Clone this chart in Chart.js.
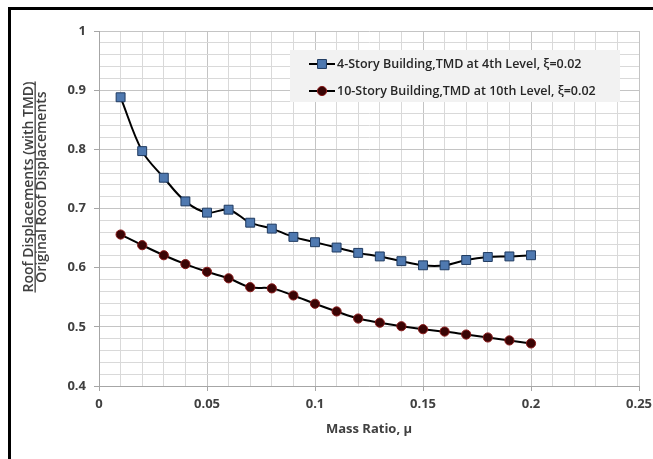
<!DOCTYPE html>
<html>
<head>
<meta charset="utf-8">
<script src="https://cdn.jsdelivr.net/npm/chart.js@4.4.1/dist/chart.umd.min.js"></script>
<style>
  html, body { margin: 0; padding: 0; background: #fff; }
  #wrap { position: relative; width: 653px; height: 459px; }
</style>
</head>
<body>
<div id="wrap"><canvas id="grafica" width="653" height="459"></canvas></div>
<script>
// datos
const massRatio = [0.01, 0.02, 0.03, 0.04, 0.05, 0.06, 0.07, 0.08, 0.09, 0.10,
                   0.11, 0.12, 0.13, 0.14, 0.15, 0.16, 0.17, 0.18, 0.19, 0.20];
const story4 = [0.888, 0.797, 0.752, 0.712, 0.693, 0.698, 0.676, 0.666, 0.652, 0.643,
                0.634, 0.625, 0.619, 0.611, 0.604, 0.604, 0.613, 0.618, 0.619, 0.621];
const story10 = [0.656, 0.638, 0.621, 0.606, 0.593, 0.582, 0.567, 0.565, 0.553, 0.539,
                 0.526, 0.514, 0.507, 0.501, 0.496, 0.492, 0.487, 0.482, 0.477, 0.472];
const serieNombres = ['4-Story Building,TMD at 4th Level, \u03BE=0.02',
                      '10-Story Building,TMD at 10th Level, \u03BE=0.02'];
const tituloY = ['Roof Displacements (with TMD)', 'Original Roof Displacements'];
const tituloX = 'Mass Ratio, \u03BC';

const fuente = '"Open Sans", "Noto Sans", sans-serif';
const gris = '#404040';

function puntos(ys) {
    return massRatio.map((x, i) => ({ x: x, y: ys[i] }));
}

// marco negro, titulo Y en forma de fraccion y leyenda dentro del area
const extras = {
    id: 'extras',
    afterDraw(chart) {
        const ctx = chart.ctx;
        ctx.save();
        ctx.fillStyle = '#000';
        ctx.fillRect(8, 7, 3, 452);
        ctx.fillRect(8, 7, 645, 3);

        // titulo eje Y
        ctx.translate(36, 187);
        ctx.rotate(-Math.PI / 2);
        ctx.font = '600 14px ' + fuente;
        ctx.fillStyle = gris;
        ctx.textAlign = 'center';
        ctx.textBaseline = 'alphabetic';
        ctx.fillText(tituloY[0], 0, -3);
        const w = ctx.measureText(tituloY[0]).width;
        ctx.fillRect(-w / 2, -1.5, w, 1.3);
        ctx.textBaseline = 'top';
        ctx.fillText(tituloY[1], 0, -1);
        ctx.setTransform(1, 0, 0, 1, 0, 0);

        // leyenda
        ctx.fillStyle = '#f2f2f2';
        ctx.fillRect(290, 50, 330, 52);
        const filas = [64, 91];
        chart.data.datasets.forEach((ds, i) => {
            const y = filas[i];
            ctx.strokeStyle = '#000';
            ctx.lineWidth = 2;
            ctx.beginPath();
            ctx.moveTo(309, y);
            ctx.lineTo(335, y);
            ctx.stroke();
            ctx.fillStyle = ds.pointBackgroundColor;
            ctx.strokeStyle = ds.pointBorderColor;
            ctx.lineWidth = ds.pointBorderWidth;
            ctx.beginPath();
            if (ds.pointStyle === 'rect') {
                const s = Math.SQRT1_2 * ds.pointRadius;
                ctx.rect(322 - s, y - s, 2 * s, 2 * s);
            } else {
                ctx.arc(322, y, ds.pointRadius, 0, Math.PI * 2);
            }
            ctx.fill();
            ctx.stroke();
            ctx.fillStyle = '#262626';
            ctx.font = '600 12.5px ' + fuente;
            ctx.textAlign = 'left';
            ctx.textBaseline = 'middle';
            ctx.fillText(ds.label, 337, y);
        });
        ctx.restore();
    }
};

const ctx = document.getElementById('grafica').getContext('2d');
const grafica = new Chart(ctx, {
    type: 'line',
    data: {
        datasets: [{
            label: serieNombres[0],
            data: puntos(story4),
            borderColor: '#000',
            borderWidth: 2,
            tension: 0.35,
            pointStyle: 'rect',
            pointRadius: 6.3,
            pointBackgroundColor: '#4f79b0',
            pointBorderColor: '#1f3a60',
            pointBorderWidth: 1
        }, {
            label: serieNombres[1],
            data: puntos(story10),
            borderColor: '#000',
            borderWidth: 2,
            tension: 0.35,
            pointStyle: 'circle',
            pointRadius: 4.6,
            pointBackgroundColor: '#3a0505',
            pointBorderColor: '#8a1a1a',
            pointBorderWidth: 1
        }]
    },
    options: {
        responsive: false,
        animation: false,
        layout: { padding: { top: 31, right: 14, left: 0, bottom: 0 } },
        plugins: {
            legend: { display: false },
            tooltip: { enabled: false }
        },
        scales: {
            x: {
                type: 'linear',
                min: 0, max: 0.25,
                afterFit: (s) => { s.height = 73; s.paddingLeft = 0; s.paddingRight = 0; },
                ticks: {
                    stepSize: 0.01,
                    autoSkip: false,
                    maxRotation: 0,
                    padding: 5,
                    color: gris,
                    font: { family: fuente, size: 13, weight: 'bold' },
                    callback: (v) => Math.round(v * 100) % 5 === 0 ? String(+v.toFixed(2)) : ''
                },
                grid: {
                    color: (c) => Math.round(c.tick.value * 100) % 5 === 0 ? '#c4c4c4' : '#d9d9d9',
                    tickColor: (c) => Math.round(c.tick.value * 100) % 5 === 0 ? '#a6a6a6' : 'rgba(0,0,0,0)',
                    tickLength: 5
                },
                border: { color: '#a6a6a6' },
                title: {
                    display: true,
                    text: tituloX,
                    color: gris,
                    font: { family: fuente, size: 13, weight: 'bold' },
                    padding: { top: 4, bottom: 22 }
                }
            },
            y: {
                min: 0.4, max: 1,
                afterFit: (s) => { s.width = 99; s.paddingTop = 0; s.paddingBottom = 0; },
                ticks: {
                    stepSize: 0.02,
                    autoSkip: false,
                    padding: 8,
                    color: gris,
                    font: { family: fuente, size: 13, weight: 'bold' },
                    callback: (v) => Math.round(v * 100) % 10 === 0 ? String(+v.toFixed(1)) : ''
                },
                grid: {
                    color: (c) => Math.round(c.tick.value * 100) % 10 === 0 ? '#c4c4c4' : '#d9d9d9',
                    tickColor: (c) => Math.round(c.tick.value * 100) % 10 === 0 ? '#a6a6a6' : 'rgba(0,0,0,0)',
                    tickLength: 5
                },
                border: { color: '#a6a6a6' }
            }
        }
    },
    plugins: [extras]
});
</script>
</body>
</html>
